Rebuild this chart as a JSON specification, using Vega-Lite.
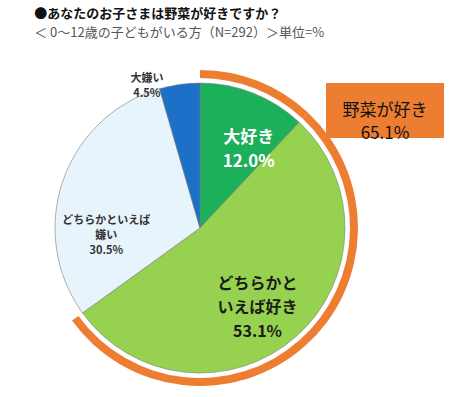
{
  "$schema": "https://vega.github.io/schema/vega-lite/v6.json",
  "background": "white",
  "padding": {"left": 26, "top": 8, "right": 5, "bottom": 5},
  "title": {
    "text": "●あなたのお子さまは野菜が好きですか？",
    "subtitle": "＜ 0～12歳の子どもがいる方（N=292）＞単位=%",
    "anchor": "start",
    "frame": "bounds",
    "dx": 8,
    "font": "Noto Sans CJK JP",
    "fontSize": 13,
    "fontWeight": "bold",
    "color": "#111111",
    "subtitleFont": "Noto Sans CJK JP",
    "subtitleFontSize": 13,
    "subtitleColor": "#555555",
    "subtitlePadding": 6,
    "offset": 30
  },
  "datasets": {
    "answers": [
      {"idx": 1, "category": "大好き", "group": "好き", "pct": 12.0, "label": "大好き\n12.0%"},
      {"idx": 2, "category": "どちらかといえば好き", "group": "好き", "pct": 53.1, "label": "どちらかと\nいえば好き\n53.1%"},
      {"idx": 3, "category": "どちらかといえば嫌い", "group": "嫌い", "pct": 30.5, "label": "どちらかといえば\n嫌い\n30.5%"},
      {"idx": 4, "category": "大嫌い", "group": "嫌い", "pct": 4.5, "label": "大嫌い\n4.5%"}
    ]
  },
  "spacing": 0,
  "bounds": "flush",
  "hconcat": [
    {
      "width": 252,
      "height": 290,
      "data": {"name": "answers"},
      "encoding": {
        "theta": {"field": "pct", "type": "quantitative", "stack": true},
        "order": {"field": "idx", "type": "quantitative"}
      },
      "layer": [
        {
          "mark": {"type": "arc", "innerRadius": 150, "outerRadius": 158},
          "encoding": {
            "color": {"condition": {"test": "datum.group === '好き'", "value": "#ED7D31"}, "value": "transparent"}
          }
        },
        {
          "mark": {"type": "arc", "outerRadius": 145, "stroke": "#7a7a7a", "strokeWidth": 0.6},
          "encoding": {
            "color": {
              "field": "category",
              "type": "nominal",
              "legend": null,
              "scale": {
                "domain": ["大好き", "どちらかといえば好き", "どちらかといえば嫌い", "大嫌い"],
                "range": ["#1DB05A", "#96D24F", "#E8F4FC", "#1C70C8"]
              }
            }
          }
        },
        {
          "mark": {"type": "text", "radius": 97, "dx": 13, "fontSize": 17, "fontWeight": "bold", "color": "white", "lineBreak": "\n", "lineHeight": 24, "font": "Noto Sans CJK JP"},
          "encoding": {"text": {"condition": {"test": "datum.category === '大好き'", "field": "label", "type": "nominal"}, "value": ""}}
        },
        {
          "mark": {"type": "text", "radius": 81, "dx": 4, "dy": -5, "fontSize": 16, "fontWeight": "bold", "color": "#1a1a1a", "lineBreak": "\n", "lineHeight": 24, "font": "Noto Sans CJK JP"},
          "encoding": {"text": {"condition": {"test": "datum.category === 'どちらかといえば好き'", "field": "label", "type": "nominal"}, "value": ""}}
        },
        {
          "mark": {"type": "text", "radius": 96, "dx": -3, "dy": 24, "fontSize": 11, "fontWeight": "bold", "color": "#333333", "lineBreak": "\n", "lineHeight": 15, "font": "Noto Sans CJK JP"},
          "encoding": {"text": {"condition": {"test": "datum.category === 'どちらかといえば嫌い'", "field": "label", "type": "nominal"}, "value": ""}}
        },
        {
          "mark": {"type": "text", "radius": 150, "dx": -32, "fontSize": 11, "fontWeight": "bold", "color": "#333333", "lineBreak": "\n", "lineHeight": 15, "font": "Noto Sans CJK JP"},
          "encoding": {"text": {"condition": {"test": "datum.category === '大嫌い'", "field": "label", "type": "nominal"}, "value": ""}}
        }
      ]
    },
    {
      "width": 118,
      "height": 55,
      "data": {"name": "answers"},
      "transform": [
        {"filter": "datum.group === '好き'"},
        {"aggregate": [{"op": "sum", "field": "pct", "as": "total"}]},
        {"calculate": "'野菜が好き\\n' + format(datum.total, '.1f') + '%'", "as": "label"}
      ],
      "layer": [
        {"mark": {"type": "rect", "color": "#ED7D31"}, "encoding": {}},
        {
          "mark": {"type": "text", "fontSize": 17, "lineBreak": "\n", "lineHeight": 23, "font": "Noto Sans CJK JP", "color": "#111111"},
          "encoding": {"text": {"field": "label", "type": "nominal"}}
        }
      ]
    }
  ],
  "config": {"view": {"stroke": null}}
}
